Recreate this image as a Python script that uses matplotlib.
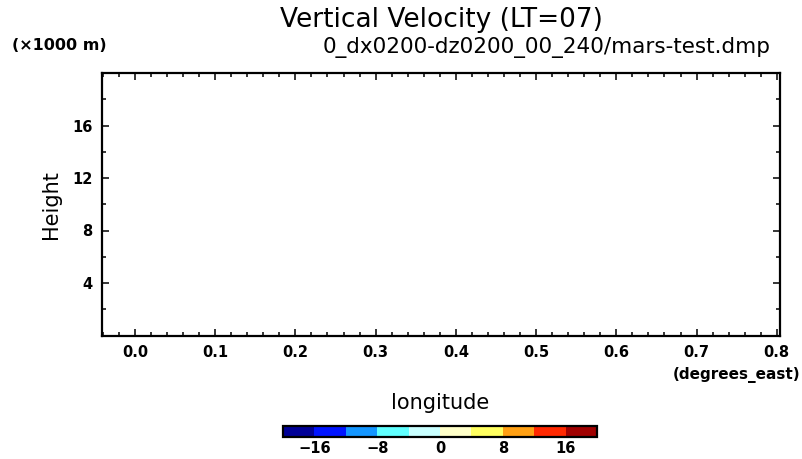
import numpy as np
import matplotlib
matplotlib.use("Agg")
import matplotlib.pyplot as plt
from matplotlib.colors import ListedColormap, BoundaryNorm
from matplotlib.cm import ScalarMappable

# chart texts
title = "Vertical Velocity (LT=07)"
subtitle = "0_dx0200-dz0200_00_240/mars-test.dmp"
xlabel = "longitude"
ylabel = "Height"
xunit = "(degrees_east)"
yunit = "(\u00d71000 m)"

# axis ranges and ticks (longitude in degrees, height in km)
xlim = [-0.041, 0.804]
ylim = [0, 20]
xticks = [0.0, 0.1, 0.2, 0.3, 0.4, 0.5, 0.6, 0.7, 0.8]
yticks = [4, 8, 12, 16]

# shading levels and colours for the colour bar
levels = [-20, -16, -12, -8, -4, 0, 4, 8, 12, 16, 20]
cbar_ticks = [-16, -8, 0, 8, 16]
shade_colors = ["#000096", "#0014ff", "#1496ff", "#60ffff", "#c8ffff",
                "#ffffc8", "#ffff60", "#ffa014", "#ff2800", "#a00000"]

fig = plt.figure(figsize=(8.02, 4.59), dpi=100)
ax = fig.add_axes([102/802, 1-335.5/459, 678/802, 262.5/459])

ax.set_xlim(xlim)
ax.set_ylim(ylim)
ax.set_xticks(xticks)
ax.set_xticklabels(["%.1f" % v for v in xticks])
ax.set_yticks(yticks)
ax.set_xticks(np.arange(-0.04, 0.81, 0.02), minor=True)
ax.set_yticks(np.arange(2, 20, 4), minor=True)

ax.tick_params(which="both", direction="in", top=True, right=True, width=1.1)
ax.tick_params(which="major", length=5, pad=7)
ax.tick_params(which="minor", length=3)
for lab in ax.get_xticklabels() + ax.get_yticklabels():
    lab.set_fontweight("bold")
    lab.set_fontsize(10.5)
for sp in ax.spines.values():
    sp.set_linewidth(1.6)

ax.set_ylabel(ylabel, fontsize=15, labelpad=8)

fig.text(441/802, 1-20/459, title, fontsize=19, ha="center", va="center")
fig.text(771/802, 1-47/459, subtitle, fontsize=15.5, ha="right", va="center")
fig.text(12/802, 1-46/459, yunit, fontsize=11.5, fontweight="bold", ha="left", va="center")
fig.text(800/802, 1-375/459, xunit, fontsize=11, fontweight="bold", ha="right", va="center")
fig.text(440/802, 1-403/459, xlabel, fontsize=15, ha="center", va="center")

cmap = ListedColormap(shade_colors)
norm = BoundaryNorm(levels, cmap.N)
cax = fig.add_axes([283/802, 1-437/459, 314/802, 11/459])
cb = fig.colorbar(ScalarMappable(norm=norm, cmap=cmap), cax=cax,
                  orientation="horizontal", ticks=cbar_ticks)
cb.minorticks_off()
cb.outline.set_linewidth(1.6)
cax.tick_params(which="both", length=0, pad=3)
for lab in cax.get_xticklabels():
    lab.set_fontweight("bold")
    lab.set_fontsize(10.5)

fig.savefig("out.png", dpi=100)
